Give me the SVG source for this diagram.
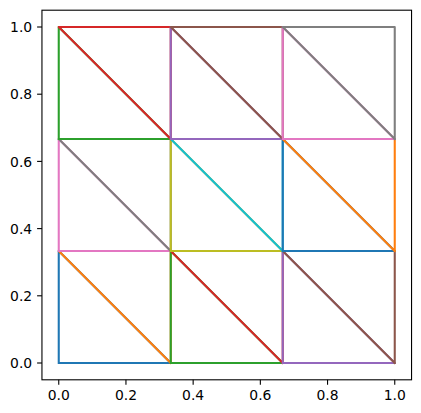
<svg xmlns="http://www.w3.org/2000/svg" width="421" height="413" viewBox="0 0 421 413">
<style>
.t{fill:none;stroke-width:2.08;stroke-linejoin:round;stroke-linecap:square}
.ax{fill:none;stroke:#000;stroke-width:1.1;stroke-linecap:square}
.tk{stroke:#000;stroke-width:1.1}
text{font-family:"DejaVu Sans",sans-serif;font-size:13.9px;fill:#000}
.xl{text-anchor:middle}
.yl{text-anchor:end}
</style>
<rect width="421" height="413" fill="#fff"/>
<g id="connectors">
<polyline class="t" stroke="#1f77b4" points="58.75,363 170.75,363 58.75,251 58.75,363"/>
<polyline class="t" stroke="#ff7f0e" points="170.75,363 170.75,251 58.75,251 170.75,363"/>
<polyline class="t" stroke="#2ca02c" points="170.75,363 282.75,363 170.75,251 170.75,363"/>
<polyline class="t" stroke="#d62728" points="282.75,363 282.75,251 170.75,251 282.75,363"/>
<polyline class="t" stroke="#9467bd" points="282.75,363 394.75,363 282.75,251 282.75,363"/>
<polyline class="t" stroke="#8c564b" points="394.75,363 394.75,251 282.75,251 394.75,363"/>
<polyline class="t" stroke="#e377c2" points="58.75,251 170.75,251 58.75,139 58.75,251"/>
<polyline class="t" stroke="#7f7f7f" points="170.75,251 170.75,139 58.75,139 170.75,251"/>
<polyline class="t" stroke="#bcbd22" points="170.75,251 282.75,251 170.75,139 170.75,251"/>
<polyline class="t" stroke="#17becf" points="282.75,251 282.75,139 170.75,139 282.75,251"/>
<polyline class="t" stroke="#1f77b4" points="282.75,251 394.75,251 282.75,139 282.75,251"/>
<polyline class="t" stroke="#ff7f0e" points="394.75,251 394.75,139 282.75,139 394.75,251"/>
<polyline class="t" stroke="#2ca02c" points="58.75,139 170.75,139 58.75,27 58.75,139"/>
<polyline class="t" stroke="#d62728" points="170.75,139 170.75,27 58.75,27 170.75,139"/>
<polyline class="t" stroke="#9467bd" points="170.75,139 282.75,139 170.75,27 170.75,139"/>
<polyline class="t" stroke="#8c564b" points="282.75,139 282.75,27 170.75,27 282.75,139"/>
<polyline class="t" stroke="#e377c2" points="282.75,139 394.75,139 282.75,27 282.75,139"/>
<polyline class="t" stroke="#7f7f7f" points="394.75,139 394.75,27 282.75,27 394.75,139"/>
</g>
<g id="axes">
<rect class="ax" x="41.95" y="10.2" width="369.6" height="369.6"/>
<g id="xticks">
<line class="tk" x1="58.75" y1="379.8" x2="58.75" y2="384.7"/>
<line class="tk" x1="125.95" y1="379.8" x2="125.95" y2="384.7"/>
<line class="tk" x1="193.15" y1="379.8" x2="193.15" y2="384.7"/>
<line class="tk" x1="260.35" y1="379.8" x2="260.35" y2="384.7"/>
<line class="tk" x1="327.55" y1="379.8" x2="327.55" y2="384.7"/>
<line class="tk" x1="394.75" y1="379.8" x2="394.75" y2="384.7"/>
<text class="xl" x="58.75" y="399.6">0.0</text>
<text class="xl" x="125.95" y="399.6">0.2</text>
<text class="xl" x="193.15" y="399.6">0.4</text>
<text class="xl" x="260.35" y="399.6">0.6</text>
<text class="xl" x="327.55" y="399.6">0.8</text>
<text class="xl" x="394.75" y="399.6">1.0</text>
</g>
<g id="yticks">
<line class="tk" x1="41.95" y1="363" x2="37.1" y2="363"/>
<line class="tk" x1="41.95" y1="295.8" x2="37.1" y2="295.8"/>
<line class="tk" x1="41.95" y1="228.6" x2="37.1" y2="228.6"/>
<line class="tk" x1="41.95" y1="161.4" x2="37.1" y2="161.4"/>
<line class="tk" x1="41.95" y1="94.2" x2="37.1" y2="94.2"/>
<line class="tk" x1="41.95" y1="27" x2="37.1" y2="27"/>
<text class="yl" x="32.2" y="368.1">0.0</text>
<text class="yl" x="32.2" y="300.9">0.2</text>
<text class="yl" x="32.2" y="233.7">0.4</text>
<text class="yl" x="32.2" y="166.5">0.6</text>
<text class="yl" x="32.2" y="99.3">0.8</text>
<text class="yl" x="32.2" y="32.1">1.0</text>
</g>
</g>
</svg>
